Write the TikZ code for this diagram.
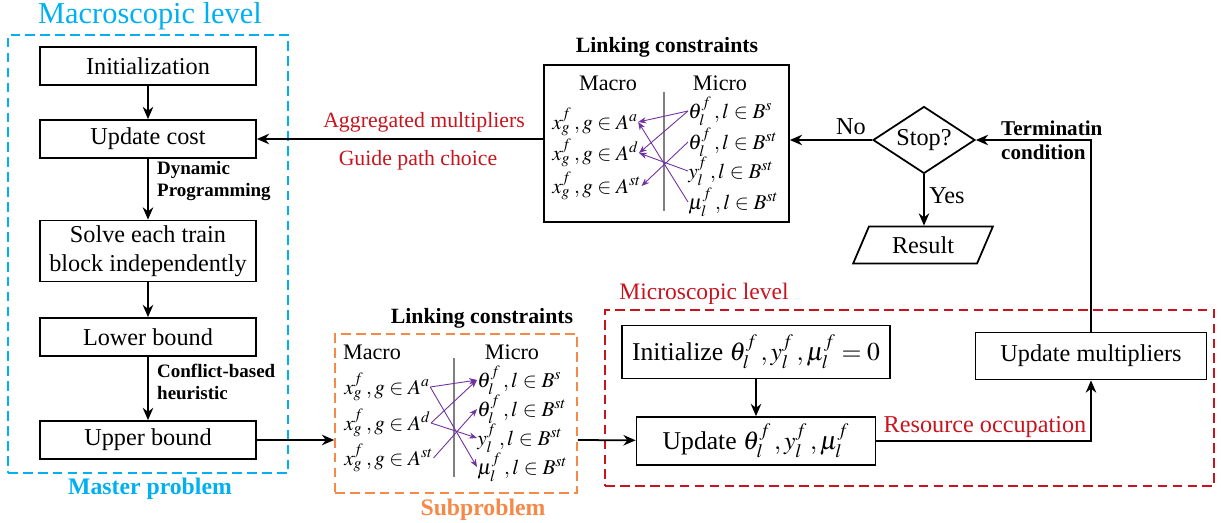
\documentclass[tikz,border=0pt]{standalone}
\usepackage{mathptmx}
\usepackage[no-math]{fontspec}
\setmainfont{Liberation Serif}
\usepackage{tikz}
\usetikzlibrary{arrows.meta,positioning,shapes.geometric}
\definecolor{macrocol}{RGB}{0,176,240}
\definecolor{microcol}{RGB}{200,20,30}
\definecolor{subcol}{RGB}{244,137,72}
\definecolor{linkcol}{RGB}{112,48,160}

\begin{document}
\begin{tikzpicture}[>=Stealth, x=0.02cm, y=-0.02cm,
    every node/.style={font=\fontsize{13.8}{16.5}\selectfont},
    blk/.style={draw, line width=1pt, inner sep=0pt, minimum width=4.32cm,
        minimum height=0.76cm, align=center},
    flow/.style={-{Stealth[length=7pt,width=6pt]}, line width=1pt},
    link/.style={-{Stealth[length=4.5pt,width=3.5pt]}, draw=linkcol, line width=0.5pt},
    frame/.style={dashed, dash pattern=on 5.5pt off 3pt, line width=1pt, inner sep=0pt},
    lbl/.style={font=\fontsize{10.8}{12.5}\selectfont\bfseries, align=left, anchor=west},
    item/.style={font=\fontsize{12}{14}\selectfont, inner sep=0pt},
    head/.style={font=\fontsize{12.4}{15}\selectfont\bfseries}]
    \useasboundingbox (0,0) rectangle (1221,522);

    % master problem (macroscopic level)
    \node[frame, draw=macrocol, minimum width=5.6cm, minimum height=8.76cm] (macrobox) at (148,254) {};
    \node[text=macrocol, font=\fontsize{17.3}{20}\selectfont] (macrotitle) at (150,16) {Macroscopic level};
    \node[text=macrocol, font=\fontsize{13.5}{16}\selectfont\bfseries] (master) at (150,489) {Master problem};

    \node[blk] (init) at (148,66) {Initialization};
    \node[blk] (cost) at (148,139) {Update cost};
    \node[blk, minimum height=1.22cm] (solve) at (148,251) {Solve each train\\block independently};
    \node[blk] (lower) at (148,337) {Lower bound};
    \node[blk] (upper) at (148,440) {Upper bound};

    \draw[flow] (init) -- (cost);
    \draw[flow] (cost) -- (solve);
    \draw[flow] (solve) -- (lower);
    \draw[flow] (lower) -- (upper);
    \node[lbl] (dp) at (151,181) {Dynamic\\Programming};
    \node[lbl] (cbh) at (151,382) {Conflict-based\\heuristic};

    % linking constraints (top)
    \node[head] (lctop) at (667,47) {Linking constraints};
    \node[draw, line width=1pt, minimum width=4.9cm, minimum height=3.14cm] (linktop) at (666.5,143.5) {};
    \node[font=\fontsize{12.6}{15}\selectfont] (macroa) at (608,83) {Macro};
    \node[font=\fontsize{12.6}{15}\selectfont] (microa) at (720,83) {Micro};
    \draw[gray, line width=0.8pt] (664,92) -- (664,211);
    \node[item, anchor=west] (ta1) at (552,122) {$x_g^f\,, g\in A^a$};
    \node[item, anchor=west] (ta2) at (552,153) {$x_g^f\,, g\in A^d$};
    \node[item, anchor=west] (ta3) at (552,186) {$x_g^f\,, g\in A^{st}$};
    \node[item, anchor=west] (tb1) at (688,111) {$\theta_l^f\,, l\in B^s$};
    \node[item, anchor=west] (tb2) at (688,142) {$\theta_l^f\,, l\in B^{st}$};
    \node[item, anchor=west] (tb3) at (688,171) {$y_l^f\,, l\in B^{st}$};
    \node[item, anchor=west] (tb4) at (688,202) {$\mu_l^f\,, l\in B^{st}$};
    \draw[link] (tb1.west) -- (ta1.east);
    \draw[link] (tb1.west) -- (ta2.east);
    \draw[link] (tb2.west) -- (ta3.east);
    \draw[link] (tb3.west) -- (ta2.east);
    \draw[link] (tb4.west) -- (ta1.east);

    \draw[flow] (linktop.west |- cost) -- (cost);
    \node[text=microcol, font=\fontsize{12.4}{15}\selectfont] (agg) at (424,122) {Aggregated multipliers};
    \node[text=microcol, font=\fontsize{12.4}{15}\selectfont] (guide) at (418,160) {Guide path choice};

    % subproblem
    \node[head] (lcsub) at (482,318) {Linking constraints};
    \node[frame, draw=subcol, minimum width=4.84cm, minimum height=3.18cm] (sub) at (456,413.5) {};
    \node[text=subcol, font=\fontsize{13.5}{16}\selectfont\bfseries] (subtitle) at (483,510) {Subproblem};
    \node[font=\fontsize{12.6}{15}\selectfont] (macrob) at (372,352) {Macro};
    \node[font=\fontsize{12.6}{15}\selectfont] (microb) at (512,352) {Micro};
    \draw[gray, line width=0.8pt] (454,358) -- (454,477);
    \node[item, anchor=west] (sa1) at (344,387) {$x_g^f\,, g\in A^a$};
    \node[item, anchor=west] (sa2) at (344,423) {$x_g^f\,, g\in A^d$};
    \node[item, anchor=west] (sa3) at (344,458) {$x_g^f\,, g\in A^{st}$};
    \node[item, anchor=west] (sb1) at (477,380) {$\theta_l^f\,, l\in B^s$};
    \node[item, anchor=west] (sb2) at (477,409) {$\theta_l^f\,, l\in B^{st}$};
    \node[item, anchor=west] (sb3) at (477,438) {$y_l^f\,, l\in B^{st}$};
    \node[item, anchor=west] (sb4) at (477,467) {$\mu_l^f\,, l\in B^{st}$};
    \draw[link] (sa1.east) -- (sb1.west);
    \draw[link] (sa1.east) -- (sb4.west);
    \draw[link] (sa2.east) -- (sb1.west);
    \draw[link] (sa2.east) -- (sb3.west);
    \draw[link] (sa3.east) -- (sb2.west);

    \draw[flow] (upper.east) -- (upper.east -| sub.west);

    % microscopic level
    \node[frame, draw=microcol, minimum width=12.18cm, minimum height=3.52cm] (microbox) at (909.5,398) {};
    \node[text=microcol, font=\fontsize{13.4}{16}\selectfont] (microtitle) at (704,294) {Microscopic level};
    \node[blk, minimum width=5.36cm, minimum height=1.06cm, font=\fontsize{14.6}{17}\selectfont] (initmu) at (756,352) {Initialize $\theta_l^f\,, y_l^f\,, \mu_l^f = 0$};
    \node[blk, minimum width=4.78cm, minimum height=0.96cm, font=\fontsize{14.6}{17}\selectfont] (upd) at (756,441) {Update $\theta_l^f\,, y_l^f\,, \mu_l^f$};
    \node[blk, minimum width=4.62cm, minimum height=0.94cm] (mult) at (1091,356) {Update multipliers};

    \draw[flow] (upper.east -| sub.east) -- (upd);
    \draw[flow] (initmu) -- (upd);
    \draw[flow] (upd.east) -| (mult.south);
    \node[text=microcol] (res) at (985,427) {Resource occupation};

    % stopping test
    \node[diamond, draw, line width=1pt, inner sep=0pt, aspect=1.52,
        minimum width=2.04cm, minimum height=1.34cm] (stop) at (924,140) {Stop?};
    \node[trapezium, draw, line width=1pt, trapezium left angle=62, trapezium right angle=118,
        trapezium stretches=true, minimum width=2.8cm, minimum height=0.74cm, inner sep=0pt] (result) at (923,245) {Result};
    \draw[flow] (mult.north) |- (stop.east);
    \node[font=\fontsize{12}{13.6}\selectfont\bfseries, align=left, anchor=west] (term) at (995,140) {Terminatin\\condition};
    \draw[flow] (stop.south) -- (stop.south |- result.north);
    \node (yes) at (947,196) {Yes};
    \draw[flow] (stop.west) -- (stop.west -| linktop.east);
    \node (no) at (851,127) {No};
\end{tikzpicture}
\end{document}
